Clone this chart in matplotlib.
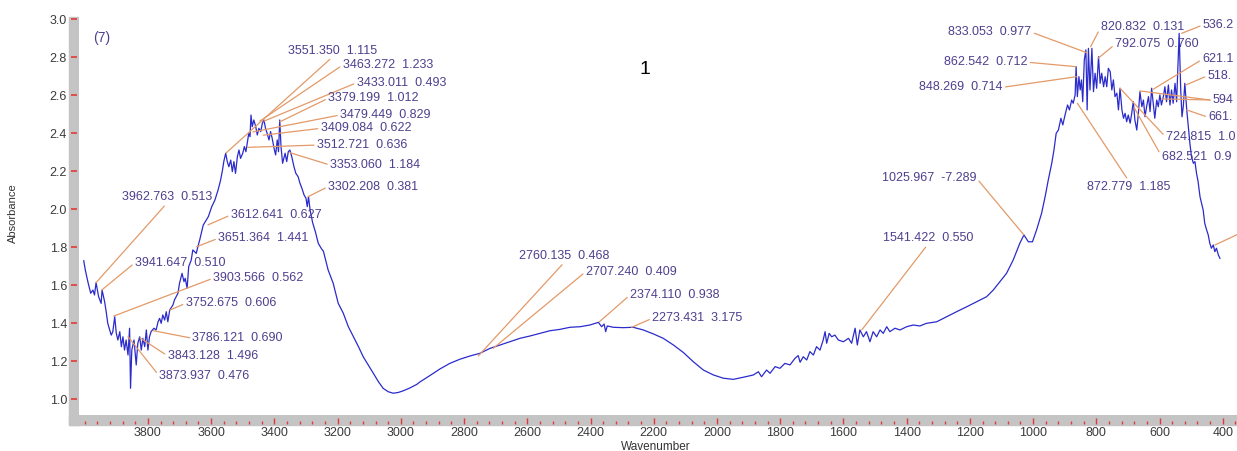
import matplotlib
matplotlib.use("Agg")
import matplotlib.pyplot as plt
from matplotlib.patches import Rectangle
from matplotlib.ticker import MultipleLocator, FixedLocator

plt.rcParams['font.family'] = ['Liberation Sans', 'DejaVu Sans']

# spectrum (cm-1, absorbance)
wavenumber = [
    4003, 3998, 3990, 3981, 3974, 3969, 3964, 3956, 3948, 3945, 3937, 3932, 3927, 3921,
    3916, 3911, 3905, 3900, 3895, 3889, 3884, 3879, 3874, 3869, 3863, 3858, 3855, 3851,
    3844, 3837, 3832, 3826, 3821, 3816, 3810, 3805, 3800, 3795, 3790, 3781, 3774, 3768,
    3763, 3758, 3753, 3747, 3742, 3737, 3731, 3721, 3716, 3705, 3700, 3692, 3686, 3682,
    3676, 3671, 3663, 3658, 3647, 3642, 3636, 3625, 3609, 3598, 3588, 3578, 3570, 3564,
    3560, 3554, 3549, 3544, 3538, 3533, 3528, 3523, 3517, 3512, 3507, 3500, 3495, 3490,
    3485, 3481, 3477, 3474, 3470, 3465, 3459, 3454, 3449, 3443, 3438, 3433, 3428, 3423,
    3417, 3412, 3407, 3401, 3396, 3391, 3387, 3383, 3379, 3374, 3370, 3366, 3361, 3356,
    3351, 3345, 3338, 3332, 3325, 3319, 3313, 3306, 3300, 3296, 3292, 3287, 3279, 3270,
    3261, 3250, 3245, 3230, 3214, 3198, 3182, 3166, 3150, 3134, 3119, 3103, 3087, 3071,
    3056, 3040, 3024, 3008, 2992, 2971, 2950, 2939, 2908, 2876, 2845, 2813, 2781, 2750,
    2718, 2686, 2655, 2623, 2592, 2560, 2528, 2497, 2465, 2433, 2402, 2375, 2365, 2357,
    2352, 2347, 2328, 2296, 2265, 2233, 2201, 2170, 2138, 2106, 2075, 2043, 2011, 1980,
    1948, 1917, 1885, 1869, 1859, 1843, 1832, 1816, 1801, 1785, 1769, 1753, 1743, 1737,
    1727, 1716, 1706, 1695, 1685, 1674, 1664, 1658, 1653, 1645, 1637, 1627, 1616, 1600,
    1584, 1574, 1563, 1556, 1548, 1537, 1527, 1516, 1506, 1495, 1484, 1474, 1463, 1453,
    1437, 1421, 1400, 1379, 1358, 1337, 1305, 1273, 1242, 1210, 1178, 1147, 1126, 1105,
    1084, 1063, 1042, 1029, 1015, 1002, 989, 973, 962, 952, 941, 934, 927, 920,
    912, 906, 899, 891, 885, 878, 873, 867, 864, 860, 855, 851, 847, 843,
    838, 833, 829, 825, 820, 814, 809, 804, 799, 793, 788, 783, 777, 772,
    767, 762, 756, 751, 746, 741, 735, 730, 725, 719, 714, 709, 704, 699,
    693, 688, 683, 678, 672, 667, 662, 656, 651, 646, 641, 635, 630, 625,
    620, 615, 609, 604, 599, 594, 588, 583, 578, 572, 567, 562, 557, 551,
    546, 541, 538, 533, 529, 525, 520, 514, 509, 504, 499, 493, 488, 483,
    478, 472, 467, 462, 457, 451, 446, 441, 436, 430, 425, 420, 414, 409,
]
absorbance = [
    1.729, 1.680, 1.619, 1.558, 1.575, 1.549, 1.614, 1.540, 1.505, 1.575, 1.514, 1.461, 1.400, 1.365,
    1.338, 1.356, 1.435, 1.347, 1.312, 1.356, 1.277, 1.329, 1.259, 1.312, 1.233, 1.374, 1.058, 1.259,
    1.312, 1.181, 1.295, 1.329, 1.259, 1.321, 1.277, 1.365, 1.259, 1.329, 1.356, 1.374, 1.365, 1.408,
    1.426, 1.400, 1.444, 1.417, 1.461, 1.408, 1.470, 1.496, 1.523, 1.558, 1.611, 1.663, 1.619, 1.637,
    1.584, 1.698, 1.733, 1.786, 1.768, 1.803, 1.840, 1.917, 1.961, 2.014, 2.049, 2.102, 2.154, 2.207,
    2.251, 2.295, 2.251, 2.224, 2.259, 2.198, 2.251, 2.189, 2.277, 2.312, 2.268, 2.295, 2.330, 2.303,
    2.356, 2.400, 2.382, 2.496, 2.435, 2.470, 2.435, 2.391, 2.426, 2.409, 2.453, 2.470, 2.426, 2.400,
    2.365, 2.409, 2.374, 2.321, 2.286, 2.365, 2.303, 2.470, 2.330, 2.242, 2.268, 2.295, 2.251, 2.303,
    2.312, 2.277, 2.224, 2.189, 2.172, 2.137, 2.111, 2.075, 2.058, 2.014, 2.066, 1.996, 1.930, 1.880,
    1.820, 1.790, 1.780, 1.681, 1.611, 1.505, 1.453, 1.382, 1.329, 1.277, 1.224, 1.181, 1.137, 1.093,
    1.058, 1.040, 1.032, 1.036, 1.045, 1.060, 1.078, 1.092, 1.125, 1.160, 1.189, 1.211, 1.228, 1.242,
    1.268, 1.286, 1.303, 1.321, 1.333, 1.347, 1.361, 1.368, 1.379, 1.382, 1.391, 1.405, 1.382, 1.396,
    1.356, 1.386, 1.379, 1.377, 1.379, 1.365, 1.344, 1.321, 1.286, 1.246, 1.198, 1.154, 1.128, 1.111,
    1.105, 1.116, 1.128, 1.145, 1.119, 1.154, 1.137, 1.172, 1.163, 1.189, 1.181, 1.216, 1.230, 1.195,
    1.224, 1.207, 1.251, 1.233, 1.277, 1.259, 1.312, 1.356, 1.295, 1.347, 1.329, 1.338, 1.312, 1.303,
    1.321, 1.295, 1.374, 1.286, 1.365, 1.329, 1.356, 1.303, 1.356, 1.329, 1.365, 1.347, 1.382, 1.356,
    1.374, 1.365, 1.382, 1.391, 1.386, 1.400, 1.408, 1.435, 1.461, 1.487, 1.514, 1.540, 1.575, 1.619,
    1.663, 1.733, 1.821, 1.865, 1.829, 1.829, 1.891, 1.980, 2.066, 2.154, 2.242, 2.312, 2.400, 2.417,
    2.479, 2.444, 2.496, 2.549, 2.523, 2.575, 2.558, 2.602, 2.751, 2.593, 2.698, 2.628, 2.681, 2.566,
    2.786, 2.839, 2.523, 2.847, 2.628, 2.847, 2.619, 2.716, 2.637, 2.803, 2.663, 2.716, 2.645, 2.698,
    2.645, 2.742, 2.724, 2.628, 2.681, 2.593, 2.611, 2.523, 2.637, 2.523, 2.479, 2.505, 2.461, 2.496,
    2.453, 2.505, 2.566, 2.470, 2.417, 2.505, 2.619, 2.540, 2.575, 2.487, 2.540, 2.593, 2.514, 2.637,
    2.558, 2.479, 2.575, 2.540, 2.602, 2.549, 2.593, 2.645, 2.566, 2.654, 2.549, 2.628, 2.558, 2.663,
    2.566, 2.800, 2.926, 2.628, 2.487, 2.540, 2.663, 2.523, 2.435, 2.347, 2.277, 2.242, 2.251, 2.189,
    2.145, 2.066, 2.032, 1.996, 1.926, 1.891, 1.865, 1.821, 1.795, 1.812, 1.777, 1.795, 1.760, 1.742,
]

# peak-pick labels and the point each leader line goes to
peak_text = [
    "3962.763  0.513", "3941.647  0.510", "3903.566  0.562", "3752.675  0.606",
    "3786.121  0.690", "3843.128  1.496", "3873.937  0.476", "3612.641  0.627",
    "3651.364  1.441", "3551.350  1.115", "3463.272  1.233", "3433.011  0.493",
    "3379.199  1.012", "3479.449  0.829", "3409.084  0.622", "3512.721  0.636",
    "3353.060  1.184", "3302.208  0.381", "2760.135  0.468", "2707.240  0.409",
    "2374.110  0.938", "2273.431  3.175", "1541.422  0.550", "1025.967  -7.289",
    "833.053  0.977", "862.542  0.712", "848.269  0.714", "820.832  0.131",
    "792.075  0.760", "536.2", "621.1", "518.", "594", "661.",
    "724.815  1.0", "682.521  0.9", "872.779  1.185",
]
peak_x = [3964, 3946, 3908, 3730, 3783, 3825, 3863, 3610, 3646, 3553, 3446, 3433,
          3382, 3468, 3435, 3484, 3351, 3294, 2755, 2708, 2372, 2270, 1542, 1029,
          830, 867, 862, 818, 794, 530, 620, 517, 593, 514, 725, 681, 860]
peak_y = [1.614, 1.575, 1.438, 1.470, 1.361, 1.323, 1.330, 1.918, 1.803, 2.296, 2.464, 2.464,
          2.461, 2.407, 2.390, 2.326, 2.298, 2.066, 1.228, 1.268, 1.408, 1.379, 1.365, 1.865,
          2.824, 2.751, 2.698, 2.856, 2.795, 2.926, 2.632, 2.654, 2.581, 2.523, 2.637, 2.537, 2.558]

# where each label sits (left edge, vertical centre) and where its leader leaves it
label_x = [3883, 3841, 3594, 3681, 3659, 3738, 3764, 3538, 3578, 3356, 3184, 3140,
           3230, 3193, 3254, 3266, 3224, 3230, 2625, 2415, 2275, 2205, 1476, 1479,
           1268, 1282, 1360, 785, 741, 463, 465, 448, 432, 446, 580, 593, 830]
label_y = [2.063, 1.719, 1.637, 1.505, 1.321, 1.229, 1.123, 1.970, 1.847, 2.835, 2.759, 2.666,
           2.584, 2.496, 2.426, 2.338, 2.233, 2.119, 1.754, 1.672, 1.549, 1.426, 1.847, 2.166,
           2.932, 2.774, 2.642, 2.961, 2.868, 2.970, 2.789, 2.703, 2.575, 2.484, 2.379, 2.277, 2.119]
leader_from = {0: (0.5, 0), 9: (0.5, 0), 18: (0.5, 0), 22: (0.5, 0),
               23: (1, 0.5), 24: (1, 0.5), 25: (1, 0.5), 26: (1, 0.5), 36: (0.5, 1)}

x_labelled = [3800, 3600, 3400, 3200, 3000, 2800, 2600, 2400, 2200, 2000,
              1800, 1600, 1400, 1200, 1000, 800, 600, 400]

LABEL_COLOR = '#4f3f8e'
LEADER_COLOR = '#e39a68'
LINE_COLOR = '#2b2bcc'
STRIP_COLOR = '#c4c4c4'
TICK_COLOR = '#e03a3a'

W, H = 1237, 451


def main():
    fig = plt.figure(figsize=(W / 100, H / 100), dpi=100)
    ax = fig.add_axes([79 / W, 36 / H, 1 - 79 / W, 398 / H])

    # grey rulers along the left and bottom edges (behind the axes ticks)
    fig.patches.append(Rectangle((69 / W, 26 / H), 10 / W, 408 / H, transform=fig.transFigure,
                                 color=STRIP_COLOR, zorder=-1))
    fig.patches.append(Rectangle((69 / W, 26 / H), 1 - 69 / W, 10 / H, transform=fig.transFigure,
                                 color=STRIP_COLOR, zorder=-1))

    ax.plot(wavenumber, absorbance, color=LINE_COLOR, lw=0.9)

    ax.set_xlim(4018, 355)
    ax.set_ylim(0.9174, 3.012)

    for s in ax.spines.values():
        s.set_visible(False)
    ax.spines['bottom'].set_position(('outward', 6.5))
    ax.spines['left'].set_position(('outward', 1.44))

    ax.xaxis.set_major_locator(FixedLocator(x_labelled))
    ax.xaxis.set_minor_locator(MultipleLocator(40))
    ax.yaxis.set_major_locator(MultipleLocator(0.2))
    ax.yaxis.set_major_formatter(plt.FormatStrFormatter('%.1f'))
    ax.tick_params(axis='x', which='major', direction='in', length=4.3, width=1,
                   color=TICK_COLOR, pad=2.2, labelsize=9, labelcolor='#3a3a3a')
    ax.tick_params(axis='x', which='minor', direction='in', length=2.2, width=1, color=TICK_COLOR)
    ax.tick_params(axis='y', which='major', direction='out', length=4.3, width=1.2,
                   color=TICK_COLOR, pad=2.9, labelsize=9, labelcolor='#3a3a3a')
    ax.tick_params(top=False, right=False, which='both')

    for i, txt in enumerate(peak_text):
        ax.annotate(txt, xy=(peak_x[i], peak_y[i]), xytext=(label_x[i], label_y[i]),
                    ha='left', va='center', fontsize=9, color=LABEL_COLOR,
                    annotation_clip=False,
                    arrowprops=dict(arrowstyle='-', color=LEADER_COLOR, lw=0.9,
                                    relpos=leader_from.get(i, (0, 0.5)),
                                    shrinkA=0, shrinkB=0))

    # leaders whose labels are cut off at the right edge
    ax.annotate('', xy=(662, 2.623), xytext=(440, 2.575), annotation_clip=False,
                arrowprops=dict(arrowstyle='-', color=LEADER_COLOR, lw=0.9, shrinkA=0, shrinkB=0))
    ax.annotate('', xy=(425, 1.812), xytext=(345, 1.874), annotation_clip=False,
                arrowprops=dict(arrowstyle='-', color=LEADER_COLOR, lw=0.9, shrinkA=0, shrinkB=0))

    fig.text(92.7 / W, 1 - 38.3 / H, '(7)', ha='left', va='center', fontsize=10, color=LABEL_COLOR)
    fig.text(645 / W, 1 - 70 / H, '1', ha='center', va='center', fontsize=14, color='black')
    fig.text(13 / W, 1 - 213 / H, 'Absorbance', rotation=90, ha='center', va='center',
             fontsize=8, color='#333333')
    fig.text(656 / W, 1 - 446.5 / H, 'Wavenumber', ha='center', va='center',
             fontsize=8.5, color='#333333')

    fig.savefig('out.png', dpi=100)


if __name__ == "__main__":
    main()
